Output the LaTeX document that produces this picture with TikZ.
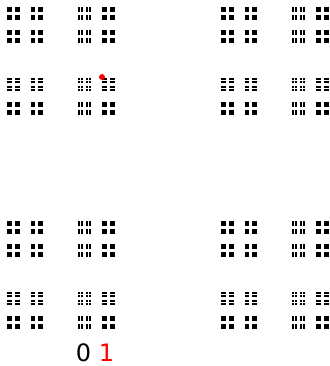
\documentclass[tikz,border=0pt]{standalone}
\usepackage{fontspec}
\setmainfont{DejaVu Sans}
\begin{document}
\begin{tikzpicture}[x=1pt,y=-1pt,
  dust/.style={fill=black, draw=black, line width=0.55pt},
  lbl/.style={font=\fontsize{24}{26}\selectfont, inner sep=0pt}]
\useasboundingbox (0,0) rectangle (329,366);
\def\Lx{321}
\def\X{7}
\def\Y{7}
\pgfmathsetmacro\s{\Lx/729}
\foreach \i in {0,...,63}{
  \pgfmathsetmacro\ox{\X + 2*\Lx*(floor(\i/32)/3 + mod(floor(\i/16),2)/9 + mod(floor(\i/8),2)/27 + mod(floor(\i/4),2)/81 + mod(floor(\i/2),2)/243 + mod(\i,2)/729)}
  \foreach \j in {0,...,63}{
    \pgfmathsetmacro\oy{\Y + 2*\Lx*(floor(\j/32)/3 + mod(floor(\j/16),2)/9 + mod(floor(\j/8),2)/27 + mod(floor(\j/4),2)/81 + mod(floor(\j/2),2)/243 + mod(\j,2)/729)}
    \filldraw[dust] (\ox,\oy) rectangle ++(\s,\s);
  }
}
\fill[red] (102,77) circle (3);
\node[lbl] (labels) at (95,353) {0 \textcolor{red}{1}};
\end{tikzpicture}
\end{document}
